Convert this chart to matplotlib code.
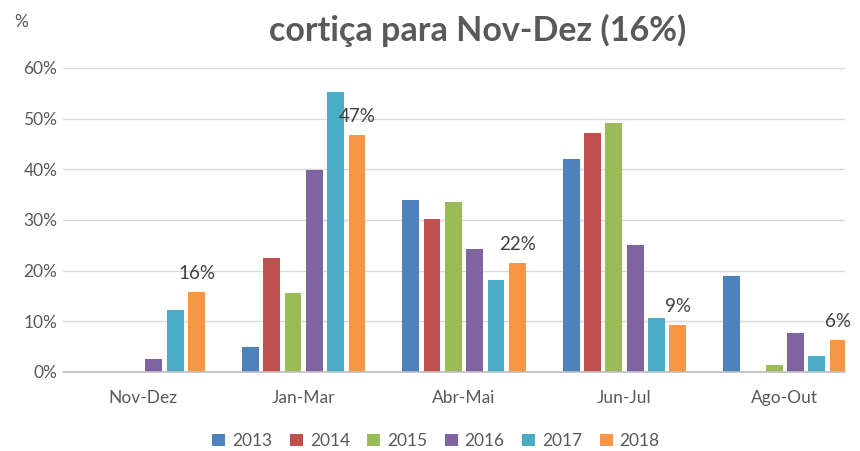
import matplotlib
matplotlib.use("Agg")
import matplotlib.pyplot as plt
import numpy as np

categories = ["Nov-Dez", "Jan-Mar", "Abr-Mai", "Jun-Jul", "Ago-Out"]
years = ["2013", "2014", "2015", "2016", "2017", "2018"]
v2013 = [0.0, 4.9, 33.9, 42.0, 18.9]
v2014 = [0.0, 22.5, 30.2, 47.2, 0.0]
v2015 = [0.0, 15.6, 33.5, 49.1, 1.4]
v2016 = [2.6, 39.9, 24.3, 25.1, 7.7]
v2017 = [12.2, 55.3, 18.2, 10.7, 3.2]
v2018 = [15.8, 46.8, 21.5, 9.3, 6.3]
labels2018 = ["16%", "47%", "22%", "9%", "6%"]
series = [v2013, v2014, v2015, v2016, v2017, v2018]
colors = ["#4F81BD", "#C0504D", "#9BBB59", "#8064A2", "#4BACC6", "#F79646"]

plt.rcParams['font.family'] = ['Lato', 'DejaVu Sans']

W, H = 860, 451
fig = plt.figure(figsize=(W / 100, H / 100), dpi=100)
ax_l, ax_r, ax_b, ax_t = 63, 845, 372, 68
ax = fig.add_axes([ax_l / W, 1 - ax_b / H, (ax_r - ax_l) / W, (ax_b - ax_t) / H])

x = np.arange(len(categories))
pitch = 0.133
bw = 0.105
for i, (vals, c, y) in enumerate(zip(series, colors, years)):
    pos = x + (i - 2.5) * pitch
    ax.bar(pos, vals, width=bw, color=c, label=y, zorder=3)
    if i == 5:
        for p, v, lab in zip(pos, vals, labels2018):
            ax.annotate(lab, (p, v), xytext=(0, 7), textcoords="offset points",
                        ha="center", va="bottom", fontsize=13.5, color="#404040")

ax.set_xlim(-0.5, 4.375)
ax.set_ylim(0, 60)
ax.set_yticks(np.arange(0, 61, 10))
ax.set_yticklabels([f"{t}%" for t in range(0, 61, 10)])
ax.set_xticks(x)
ax.set_xticklabels(categories)
ax.tick_params(axis="both", length=0, labelsize=12.5, colors="#595959")
ax.tick_params(axis="x", pad=13)
ax.tick_params(axis="y", pad=4)
ax.grid(axis="y", color="#D9D9D9", linewidth=1, zorder=0)
for s in ["top", "right", "left"]:
    ax.spines[s].set_visible(False)
ax.spines["bottom"].set_color("#BFBFBF")
ax.spines["bottom"].set_linewidth(1.2)
ax.spines["bottom"].set_zorder(4)

fig.text(478 / W, 1 - 30 / H, "cortiça para Nov-Dez (16%)", ha="center", va="center",
         fontsize=24.5, fontweight="bold", color="#595959")
fig.text(14 / W, 1 - 22 / H, "%", ha="left", va="center", fontsize=12.5, color="#595959")

leg = fig.legend(loc="center", bbox_to_anchor=(436 / W, 1 - 441 / H), ncol=6, frameon=False,
                 fontsize=12.5, handlelength=0.75, handleheight=0.75, handletextpad=0.4,
                 columnspacing=1.0)
for t in leg.get_texts():
    t.set_color("#595959")

fig.savefig("out.png", dpi=100)
